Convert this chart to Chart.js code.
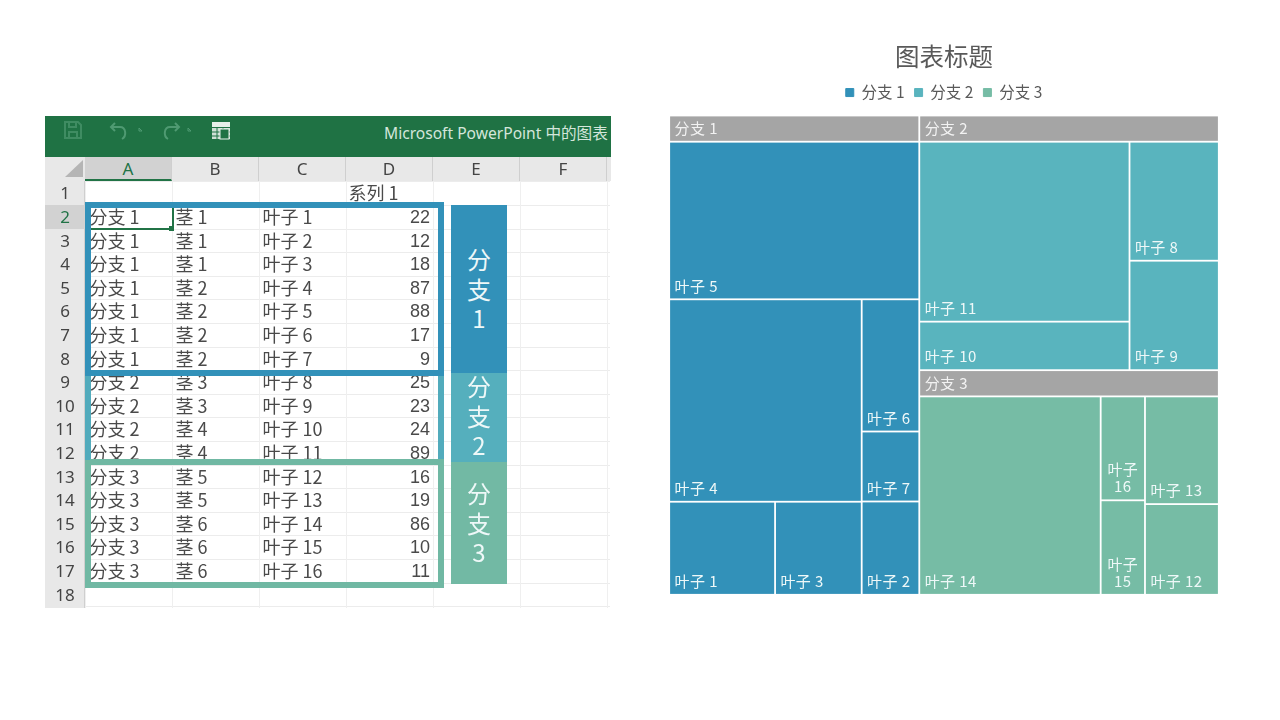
<!DOCTYPE html>
<html>
<head>
<meta charset="utf-8">
<title>图表标题</title>
<script src="https://cdn.jsdelivr.net/npm/chart.js@4"></script>
<style>
html, body { margin: 0; padding: 0; background: #fff; width: 1280px; height: 720px; overflow: hidden; }
body { font-family: "Noto Sans CJK SC", sans-serif; position: relative; }
#sheet, #sheet div { position: absolute; box-sizing: border-box; }
#sheet { left: 0; top: 0; width: 1280px; height: 720px; filter: blur(0.3px); }
#sheet .txt { white-space: nowrap; font-size: 18px; line-height: 22px; color: #4a4a4a; }
#sheet .num { line-height: 24px; text-align: right; font-family: "Liberation Sans", sans-serif; }
#sheet .hd { text-align: center; font-family: "Noto Sans", sans-serif; font-size: 17px; line-height: 24px; color: #444; }
#sheet .band { color: #eef8f8; font-size: 24px; line-height: 29.5px; text-align: center; }
#wrap { position: absolute; left: 640px; top: 30px; width: 610px; height: 570px; }
</style>
</head>
<body>
<div id="sheet"></div>
<div id="wrap"><canvas id="treemap"></canvas></div>
<script>
// sheet rows
const branchCol = ['分支 1','分支 1','分支 1','分支 1','分支 1','分支 1','分支 1','分支 2','分支 2','分支 2','分支 2','分支 3','分支 3','分支 3','分支 3','分支 3'];
const stemCol = ['茎 1','茎 1','茎 1','茎 2','茎 2','茎 2','茎 2','茎 3','茎 3','茎 4','茎 4','茎 5','茎 5','茎 6','茎 6','茎 6'];
const leafCol = ['叶子 1','叶子 2','叶子 3','叶子 4','叶子 5','叶子 6','叶子 7','叶子 8','叶子 9','叶子 10','叶子 11','叶子 12','叶子 13','叶子 14','叶子 15','叶子 16'];
const values = [22, 12, 18, 87, 88, 17, 9, 25, 23, 24, 89, 16, 19, 86, 10, 11];
const colLetters = ['A','B','C','D','E','F'];
const branchNames = ['分支 1','分支 2','分支 3'];
const branchColors = ['#3291b9','#59b4be','#76bca5'];

// how each branch is cut up, leaves by number. sizes come from values
const branch1Cuts = ['stack', 5, ['side', ['stack', 4, ['side', 1, 3]], ['stack', 6, 7, 2]]];
const branch2Cuts = ['side', ['stack', 11, 10], ['stack', 8, 9]];
const branch3Cuts = ['side', 14, ['stack', 16, 15], ['stack', 13, 12]];

var sheet = document.getElementById('sheet');
function box(x, y, w, h, css, text, cls) {
    var d = document.createElement('div');
    d.style.cssText = 'left:' + x + 'px;top:' + y + 'px;width:' + w + 'px;height:' + h + 'px;' + (css || '');
    if (text !== undefined) d.innerHTML = text;
    if (cls) d.className = cls;
    sheet.appendChild(d);
    return d;
}

var colX = [85, 172, 259, 346, 433, 520, 607];
var rowH = 23.6, rowTop = 181.4;

// title bar
box(45, 116, 566, 41, 'background:#1f7244;');
box(384, 122, 226, 22, 'color:#d4e6db;font:15.6px/22px "Noto Sans","Noto Sans CJK SC",sans-serif;white-space:nowrap;', 'Microsoft PowerPoint 中的图表');
box(45, 116, 220, 41, '', '<svg width="220" height="41" fill="none" stroke-width="2">' +
    '<path d="M20 6h13l3 3v13H20z" stroke="#3f8c62"/><path d="M24 6v5h7V6M24 22v-6h8v6" stroke="#3f8c62"/>' +
    '<path d="M70 7l-4 4 4 4M66 11h9c6 0 7 9 2 12" stroke="#4f9a72"/><path d="M94 12l3 3 -3 0z" stroke="#4f9a72" stroke-width="1"/>' +
    '<path d="M130 7l4 4-4 4M134 11h-9c-6 0-7 9-2 12" stroke="#4f9a72"/><path d="M143 12l3 3 -3 0z" stroke="#4f9a72" stroke-width="1"/>' +
    '<rect x="167" y="6" width="18" height="5" fill="#e6efe9" stroke="none"/><rect x="167" y="12" width="18" height="11" fill="#cfe0d6" stroke="none"/>' +
    '<path d="M167 16h18M167 20h18M172 12v11M178 12v11" stroke="#1f7244" stroke-width="1"/><rect x="175" y="13" width="9" height="10" fill="#1f7244" stroke="#e6efe9" stroke-width="1"/></svg>');

// headers
box(45, 157, 566, 24, 'background:#e8e8e8;');
box(45, 181, 40, 427, 'background:#e8e8e8;border-right:1px solid #cfcfcf;');
box(45, 157, 40, 24, '', '<svg width="40" height="24"><path d="M38 3v17H20z" fill="#b5b5b5"/></svg>');
colLetters.forEach(function (c, i) {
    var on = i === 0;
    box(colX[i], 157, colX[i + 1] - colX[i], 24, (on ? 'background:#d2d2d2;border-bottom:2px solid #217346;color:#217346;' : '') + 'border-right:1px solid #cfcfcf;', c, 'hd');
});

// grid
for (var r = 0; r <= 18; r++) box(85, rowTop + r * rowH, 525, 1, 'background:#ececec;');
for (var c = 0; c < colX.length; c++) box(colX[c], 181, 1, 427, 'background:#efefef;');

// row numbers
for (var n = 1; n <= 18; n++) {
    box(45, rowTop + (n - 1) * rowH, 40, rowH, (n === 2 ? 'background:#d2d2d2;color:#217346;' : '') + 'line-height:23.6px;', n, 'hd');
}

// cells
box(348.5, rowTop, 84, rowH, '', '系列 1', 'txt');
values.forEach(function (v, i) {
    var y = rowTop + (i + 1) * rowH;
    box(89.5, y, 80, rowH, '', branchCol[i], 'txt');
    box(175.5, y, 80, rowH, '', stemCol[i], 'txt');
    box(262.5, y, 80, rowH, '', leafCol[i], 'txt');
    box(346, y, 84, rowH, '', v, 'txt num');
});

// active cell
box(85, 228, 87, 2, 'background:#217346;');
box(172, 205, 2, 25, 'background:#217346;');
box(169, 226, 5, 5, 'background:#217346;');

// coloured frames over the sheet
function frameSide(x, y, w, h, col) { box(x, y, w, h, 'background:' + col + ';'); }
frameSide(85, 376, 6, 84, '#52abbc');
frameSide(438, 376, 6, 84, '#52abbc');
frameSide(85, 202, 359, 6, '#3291b9');
frameSide(85, 202, 6, 174, '#3291b9');
frameSide(438, 202, 6, 174, '#3291b9');
frameSide(85, 370, 359, 6, '#3291b9');
frameSide(90, 459, 354, 6, '#70b8a3');
frameSide(85, 460, 6, 128, '#70b8a3');
frameSide(438, 459, 6, 129, '#70b8a3');
frameSide(85, 582, 359, 6, '#70b8a3');

// branch blocks beside the sheet
box(451, 205, 56, 168, 'background:' + branchColors[0] + ';padding-top:39px;', '分<br>支<br>1', 'band');
box(451, 373, 56, 89, 'background:' + '#55afbd' + ';margin-top:0;', '<div style="position:static;margin-top:-2px">分<br>支<br>2</div>', 'band');
box(451, 462, 56, 122, 'background:#72b9a4;padding-top:16px;', '分<br>支<br>3', 'band');

// treemap
function branchOf(name) {
    return values.filter(function (v, i) { return branchCol[i] === name; });
}
function nodeSum(node) {
    if (typeof node === 'number') return values[node - 1];
    return node.slice(1).reduce(function (s, k) { return s + nodeSum(k); }, 0);
}
function cut(node, r, out) {
    if (typeof node === 'number') {
        out.push({ x0: r.x0, y0: r.y0, x1: r.x1, y1: r.y1, name: leafCol[node - 1] });
        return;
    }
    var total = nodeSum(node), at = 0;
    node.slice(1).forEach(function (k) {
        var a = at / total, b = (at + nodeSum(k)) / total;
        at += nodeSum(k);
        if (node[0] === 'side') {
            var w = r.x1 - r.x0;
            cut(k, { x0: r.x0 + a * w, x1: r.x0 + b * w, y0: r.y0, y1: r.y1 }, out);
        } else {
            var h = r.y1 - r.y0;
            cut(k, { x0: r.x0, x1: r.x1, y0: r.y0 + a * h, y1: r.y0 + b * h }, out);
        }
    });
}

var headerShare = 26.2 / 479; // branch header strip, share of the y axis
var gap = 1.8;

var treemapPlugin = {
    id: 'treemapCells',
    beforeInit: function (chart) {
        // a bit more room under the legend
        var fit = chart.legend.fit;
        chart.legend.fit = function () {
            fit.call(this);
            this.height += 5.2;
        };
    },
    afterDatasetsDraw: function (chart) {
        var ctx = chart.ctx, sx = chart.scales.x, sy = chart.scales.y;
        var sums = [nodeSum(branch1Cuts), nodeSum(branch2Cuts), nodeSum(branch3Cuts)];
        var all = sums[0] + sums[1] + sums[2];
        var split = sums[0] / all, splitY = sums[1] / (sums[1] + sums[2]);
        var rects = [
            { x0: 0, x1: split, y0: 0, y1: 1 },
            { x0: split, x1: 1, y0: 0, y1: splitY },
            { x0: split, x1: 1, y0: splitY, y1: 1 }
        ];
        var cuts = [branch1Cuts, branch2Cuts, branch3Cuts];
        function px(r) {
            return {
                l: sx.getPixelForValue(r.x0) + gap / 2, r: sx.getPixelForValue(r.x1) - gap / 2,
                t: sy.getPixelForValue(r.y0) + gap / 2, b: sy.getPixelForValue(r.y1) - gap / 2
            };
        }
        ctx.save();
        ctx.textBaseline = 'middle';
        ctx.font = '15px "Noto Sans CJK SC"';
        ctx.letterSpacing = '0.4px';
        rects.forEach(function (r, i) {
            var head = px({ x0: r.x0, x1: r.x1, y0: r.y0, y1: r.y0 + headerShare });
            ctx.fillStyle = '#a5a5a5';
            ctx.fillRect(head.l, head.t, head.r - head.l, head.b - head.t);
            ctx.fillStyle = '#f2f2f2';
            ctx.textAlign = 'left';
            ctx.fillText(branchNames[i], head.l + 4.5, (head.t + head.b) / 2);

            var leaves = [];
            cut(cuts[i], { x0: r.x0, x1: r.x1, y0: r.y0 + headerShare, y1: r.y1 }, leaves);
            leaves.forEach(function (leaf) {
                var p = px(leaf);
                ctx.fillStyle = branchColors[i];
                ctx.fillRect(p.l, p.t, p.r - p.l, p.b - p.t);
                ctx.fillStyle = '#eef8f8';
                if (ctx.measureText(leaf.name).width > p.r - p.l - 8) {
                    var bits = leaf.name.split(' ');
                    ctx.textAlign = 'center';
                    ctx.fillText(bits[0], (p.l + p.r) / 2, p.b - 30);
                    ctx.fillText(bits[1], (p.l + p.r) / 2, p.b - 13);
                } else {
                    ctx.textAlign = 'left';
                    ctx.fillText(leaf.name, p.l + 4.5, p.b - 12.5);
                }
            });
        });
        ctx.restore();
    }
};

new Chart(document.getElementById('treemap'), {
    type: 'scatter',
    plugins: [treemapPlugin],
    data: {
        datasets: branchNames.map(function (name, i) {
            return {
                label: name,
                data: branchOf(name),
                backgroundColor: branchColors[i],
                borderColor: branchColors[i],
                pointStyle: 'rect',
                pointRadius: 0
            };
        })
    },
    options: {
        responsive: true,
        maintainAspectRatio: false,
        animation: false,
        events: [],
        layout: { padding: { left: 29.2, right: 31.2, top: 12, bottom: 5.2 } },
        scales: {
            x: { type: 'linear', display: false, min: 0, max: 1 },
            y: { type: 'linear', display: false, min: 0, max: 1, reverse: true }
        },
        plugins: {
            title: {
                display: true,
                text: '图表标题',
                color: '#595959',
                font: { family: '"Noto Sans CJK SC"', size: 24.5, weight: 'normal' },
                padding: { top: 0, bottom: 3.4 }
            },
            legend: {
                display: true,
                position: 'top',
                labels: {
                    color: '#595959',
                    font: { family: '"Noto Sans CJK SC"', size: 15.5 },
                    usePointStyle: true,
                    pointStyle: 'rect',
                    boxWidth: 8,
                    boxHeight: 8,
                    padding: 10
                }
            },
            tooltip: { enabled: false }
        }
    }
});
</script>
</body>
</html>
